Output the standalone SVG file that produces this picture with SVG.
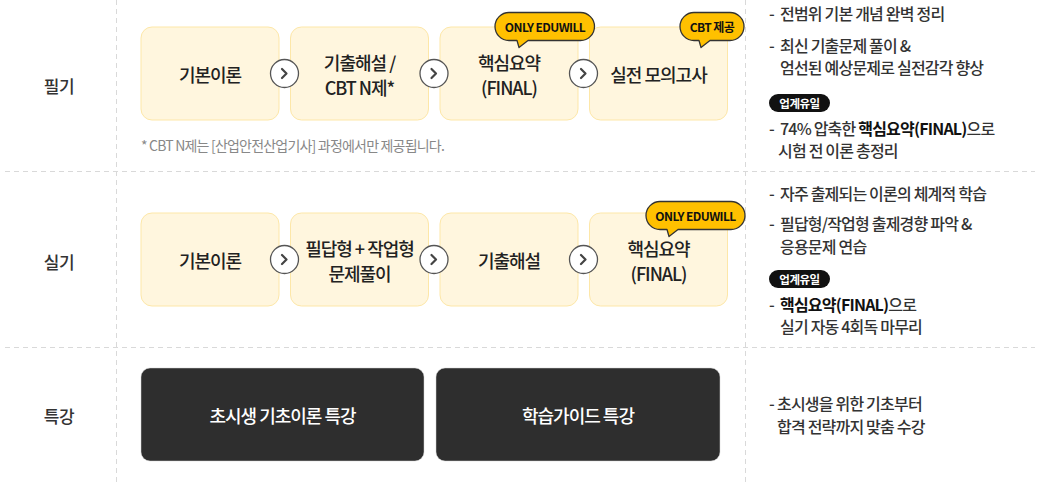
<svg xmlns="http://www.w3.org/2000/svg" width="1040" height="482" viewBox="0 0 1040 482">
<style>
text{font-family:"Noto Sans CJK KR","Noto Sans",sans-serif;font-weight:500;}
.grid{stroke:#d9d9d9;stroke-width:1;stroke-dasharray:5 4;fill:none;}
.lbl{font-size:17px;fill:#333;text-anchor:middle;dominant-baseline:central;letter-spacing:-0.5px;}
.box{fill:#fff6de;stroke:#fde7a8;stroke-width:1;}
.bt{font-size:18px;fill:#222;text-anchor:middle;dominant-baseline:central;letter-spacing:-1px;}
.dark{fill:#2e2e2e;stroke:#d0d0d0;stroke-width:0.5;}
.dt{font-size:18px;fill:#fff;text-anchor:middle;dominant-baseline:central;letter-spacing:-1px;}
.circ{fill:#fff;stroke:#555;stroke-width:1.3;}
.chev{fill:none;stroke:#444;stroke-width:2.2;stroke-linecap:round;stroke-linejoin:round;}
.bub{fill:#ffc000;stroke:#333;stroke-width:1.3;stroke-linejoin:round;}
.bubt{font-size:12px;font-weight:bold;fill:#111;text-anchor:middle;dominant-baseline:central;letter-spacing:-0.6px;}
.rt{font-size:16px;fill:#333;dominant-baseline:central;letter-spacing:-0.8px;}
.note{font-size:14px;fill:#888;dominant-baseline:central;letter-spacing:-0.8px;font-weight:400;}
.pill{fill:#111;}
.pt{font-size:11.5px;font-weight:bold;fill:#fff;text-anchor:middle;dominant-baseline:central;letter-spacing:-0.5px;}
.b{font-weight:bold;fill:#111;}
</style>
<defs>
<g id="arrow"><circle class="circ" cx="0" cy="0" r="14"/><path class="chev" d="M-2.5,-4.5 L2,0 L-2.5,4.5"/></g>
</defs>

<g id="grid">
<line class="grid" x1="116.5" y1="0" x2="116.5" y2="482"/>
<line class="grid" x1="745.5" y1="0" x2="745.5" y2="482"/>
<line class="grid" x1="5" y1="171.5" x2="1035" y2="171.5"/>
<line class="grid" x1="5" y1="347.5" x2="1035" y2="347.5"/>
</g>

<g id="row-labels">
<text class="lbl" x="59" y="85">필기</text>
<text class="lbl" x="59" y="261">실기</text>
<text class="lbl" x="59" y="415">특강</text>
</g>

<g id="w1"><rect class="box" x="141" y="27" width="138" height="93" rx="11"/><text class="bt" x="210" y="74">기본이론</text></g>
<g id="w2"><rect class="box" x="290.5" y="27" width="138" height="93" rx="11"/><text class="bt" x="359.5" y="62">기출해설 /</text><text class="bt" x="359.5" y="87">CBT N제*</text></g>
<g id="w3"><rect class="box" x="440" y="27" width="138" height="93" rx="11"/><text class="bt" x="509" y="62">핵심요약</text><text class="bt" x="509" y="87">(FINAL)</text></g>
<g id="w4"><rect class="box" x="589.5" y="27" width="138" height="93" rx="11"/><text class="bt" x="658.5" y="74">실전 모의고사</text></g>

<g id="w-note"><text class="note" x="141" y="145">* CBT N제는 [산업안전산업기사] 과정에서만 제공됩니다.</text></g>

<g id="s1"><rect class="box" x="141" y="213" width="138" height="93" rx="11"/><text class="bt" x="210" y="260">기본이론</text></g>
<g id="s2"><rect class="box" x="290.5" y="213" width="138" height="93" rx="11"/><text class="bt" x="359.5" y="248">필답형 + 작업형</text><text class="bt" x="359.5" y="273">문제풀이</text></g>
<g id="s3"><rect class="box" x="440" y="213" width="138" height="93" rx="11"/><text class="bt" x="509" y="260">기출해설</text></g>
<g id="s4"><rect class="box" x="589.5" y="213" width="138" height="93" rx="11"/><text class="bt" x="658.5" y="248">핵심요약</text><text class="bt" x="658.5" y="273">(FINAL)</text></g>

<g id="connectors">
<use href="#arrow" x="284.5" y="73.5"/>
<use href="#arrow" x="434" y="73.5"/>
<use href="#arrow" x="583.5" y="73.5"/>
<use href="#arrow" x="284.5" y="259.5"/>
<use href="#arrow" x="434" y="259.5"/>
<use href="#arrow" x="583.5" y="259.5"/>
</g>

<g id="badge-w3"><path class="bub" d="M509,12.5 H580.5 A14,14 0 0 1 580.5,40.5 H528 L519,47.5 L517,40.5 H509 A14,14 0 0 1 509,12.5 Z"/><text class="bubt" x="545" y="26.5">ONLY EDUWILL</text></g>
<g id="badge-w4"><path class="bub" d="M694,12.5 H730 A14,14 0 0 1 730,40.5 H710 L701,47.5 L699,40.5 H694 A14,14 0 0 1 694,12.5 Z"/><text class="bubt" x="712" y="26.5">CBT 제공</text></g>
<g id="badge-s4"><path class="bub" d="M660,201.5 H731 A14,14 0 0 1 731,229.5 H678 L669,236.5 L667,229.5 H660 A14,14 0 0 1 660,201.5 Z"/><text class="bubt" x="695.5" y="215.5">ONLY EDUWILL</text></g>

<g id="t1"><rect class="dark" x="141" y="368" width="283" height="93" rx="9"/><text class="dt" x="282.5" y="415">초시생 기초이론 특강</text></g>
<g id="t2"><rect class="dark" x="436" y="368" width="284" height="93" rx="9"/><text class="dt" x="578" y="415">학습가이드 특강</text></g>

<g id="desc-w">
<text class="rt" x="769" y="13">-</text><text class="rt" x="780" y="13">전범위 기본 개념 완벽 정리</text>
<text class="rt" x="769" y="45">-</text><text class="rt" x="780" y="45">최신 기출문제 풀이 &amp;</text>
<text class="rt" x="780" y="67">엄선된 예상문제로 실전감각 향상</text>
<rect class="pill" x="769" y="94" width="61" height="18" rx="9"/><text class="pt" x="799.5" y="103">업계유일</text>
<text class="rt" x="769" y="128">-</text><text class="rt" x="780" y="128">74% 압축한 <tspan class="b">핵심요약(FINAL)</tspan>으로</text>
<text class="rt" x="778" y="150">시험 전 이론 총정리</text>
</g>

<g id="desc-s">
<text class="rt" x="769" y="193">-</text><text class="rt" x="780" y="193">자주 출제되는 이론의 체계적 학습</text>
<text class="rt" x="769" y="223">-</text><text class="rt" x="780" y="223">필답형/작업형 출제경향 파악 &amp;</text>
<text class="rt" x="780" y="246">응용문제 연습</text>
<rect class="pill" x="769" y="270" width="61" height="18" rx="9"/><text class="pt" x="799.5" y="279">업계유일</text>
<text class="rt" x="769" y="304">-</text><text class="rt" x="780" y="304"><tspan class="b">핵심요약(FINAL)</tspan>으로</text>
<text class="rt" x="780" y="326">실기 자동 4회독 마무리</text>
</g>

<g id="desc-t">
<text class="rt" x="769" y="403">-</text><text class="rt" x="777" y="403">초시생을 위한 기초부터</text>
<text class="rt" x="777" y="426">합격 전략까지 맞춤 수강</text>
</g>
</svg>
